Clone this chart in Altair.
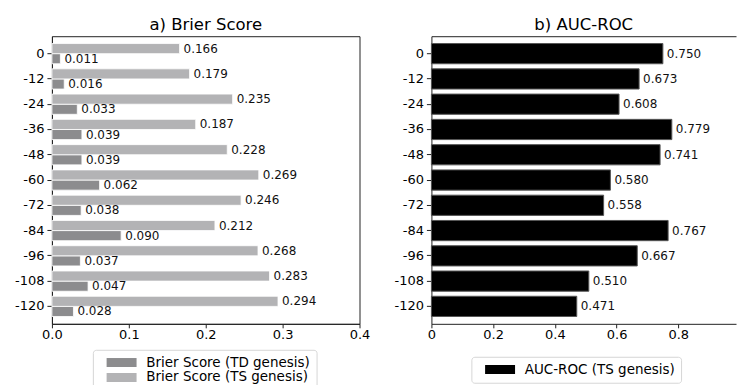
import altair as alt
import pandas as pd

# Lead times (hours) shown on the y axis, top to bottom
lead_times = ["0", "-12", "-24", "-36", "-48", "-60", "-72", "-84", "-96", "-108", "-120"]

# Brier scores for the two genesis definitions
brier_td = [0.011, 0.016, 0.033, 0.039, 0.039, 0.062, 0.038, 0.090, 0.037, 0.047, 0.028]
brier_ts = [0.166, 0.179, 0.235, 0.187, 0.228, 0.269, 0.246, 0.212, 0.268, 0.283, 0.294]

# AUC-ROC for TS genesis
auc_ts = [0.750, 0.673, 0.608, 0.779, 0.741, 0.580, 0.558, 0.767, 0.667, 0.510, 0.471]

series_td = "Brier Score (TD genesis)"
series_ts = "Brier Score (TS genesis)"
series_auc = "AUC-ROC (TS genesis)"

brier = pd.DataFrame({
    "lead": lead_times * 2,
    "series": [series_td] * len(lead_times) + [series_ts] * len(lead_times),
    "value": brier_td + brier_ts,
})
auc = pd.DataFrame({"lead": lead_times, "series": series_auc, "value": auc_ts})

FONT = "DejaVu Sans"
SWATCH = "M-3,-0.9H3V0.9H-3Z"  # wide flat legend patch (30 x 9 px at size 100)


def lead_axis():
    return alt.Y(
        "lead:N", sort=lead_times, title=None,
        scale=alt.Scale(paddingInner=0.2, paddingOuter=0.29),
        axis=alt.Axis(tickSize=5, labelPadding=3),
    )


def title(text):
    return alt.TitleParams(text, font=FONT, fontSize=16.5, fontWeight="normal",
                           color="black", offset=3, frame="group")


# ---- a) Brier Score -------------------------------------------------------
bx = alt.X(
    "value:Q", title=None,
    scale=alt.Scale(domain=[0, 0.4], nice=False, zero=True),
    axis=alt.Axis(values=[0, 0.1, 0.2, 0.3, 0.4], format=".1f", tickSize=4,
                  labelPadding=1, labelFlush=False, labelOverlap=False),
)
boff = alt.YOffset("series:N", sort=[series_ts, series_td])

brier_bars = alt.Chart(brier).mark_bar(stroke="white", strokeWidth=0.8).encode(
    x=bx,
    y=lead_axis(),
    yOffset=boff,
    color=alt.Color(
        "series:N",
        scale=alt.Scale(domain=[series_td, series_ts], range=["#8c8c8e", "#b3b3b5"]),
        legend=alt.Legend(orient="none", legendX=41, legendY=314, title=None),
    ),
)
brier_text = alt.Chart(brier).mark_text(
    align="left", baseline="middle", dx=4, font=FONT, fontSize=12, color="#111111"
).encode(
    x=bx,
    y=lead_axis(),
    yOffset=boff,
    text=alt.Text("value:Q", format=".3f"),
)
left = alt.layer(brier_bars, brier_text).properties(
    width=308, height=288, title=title("a) Brier Score"),
)

# ---- b) AUC-ROC -----------------------------------------------------------
# The panel runs to the right edge of the figure, so its x range stops just short of 1.
auc_scale = alt.Scale(domain=[0, 0.987], nice=False, zero=True)
ax_bottom = alt.X(
    "value:Q", title=None, scale=auc_scale,
    axis=alt.Axis(values=[0, 0.2, 0.4, 0.6, 0.8], tickSize=4, labelPadding=1,
                  labelFlush=False, labelOverlap=False,
                  labelExpr="datum.value == 0 ? '0' : format(datum.value, '.1f')"),
)
ax_top = alt.X(
    "value:Q", title=None, scale=auc_scale,
    axis=alt.Axis(orient="top", labels=False, ticks=False, domain=True),
)
auc_bars = alt.Chart(auc).mark_bar(stroke="#555555", strokeWidth=1).encode(
    x=ax_bottom,
    y=lead_axis(),
    color=alt.Color(
        "series:N",
        scale=alt.Scale(domain=[series_auc], range=["black"]),
        legend=alt.Legend(orient="none", legendX=40, legendY=321, title=None),
    ),
)
auc_text = alt.Chart(auc).mark_text(
    align="left", baseline="middle", dx=4, font=FONT, fontSize=12, color="#111111"
).encode(
    x=ax_top,
    y=lead_axis(),
    text=alt.Text("value:Q", format=".3f"),
)
right = (
    alt.layer(auc_bars, auc_text)
    .resolve_axis(x="independent")
    .properties(width=305, height=288, title=title("b) AUC-ROC"),
                view=alt.ViewBackground(stroke="transparent"))
)

chart = (
    alt.hconcat(left, right, spacing=72, bounds="flush")
    .resolve_scale(color="independent", x="independent", y="independent")
    .properties(padding={"left": 13, "top": 16, "right": 0, "bottom": 0}, background="white")
    .configure_view(stroke="#222222", strokeWidth=1)
    .configure_axis(
        labelFont=FONT, labelFontSize=13, labelColor="black",
        tickColor="#222222", domainColor="#222222", grid=False,
    )
    .configure_legend(
        fillColor="white", strokeColor="#d6d6d6", cornerRadius=3, padding=6,
        labelFont=FONT, labelFontSize=13.5, labelColor="black", labelLimit=0,
        symbolType=SWATCH, symbolSize=100, symbolStrokeWidth=0,
        symbolOffset=16, labelOffset=18, rowPadding=0,
    )
)

chart.save("out.html", embed_options={"renderer": "svg", "actions": False})
